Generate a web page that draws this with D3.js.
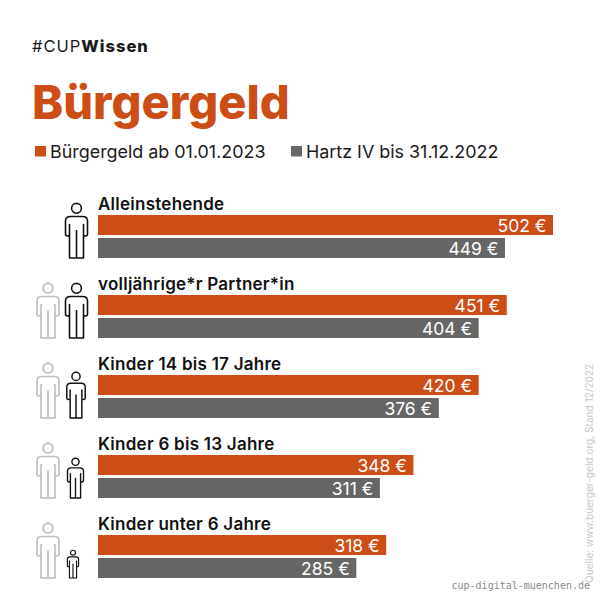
<!DOCTYPE html>
<html>
<head>
<meta charset="utf-8">
<script src="https://cdn.jsdelivr.net/npm/d3@7"></script>
<style>
html, body { margin: 0; padding: 0; background: #fff; }
text { font-family: Inter, sans-serif; }
</style>
</head>
<body>
<script>
// data
var categories = ["Alleinstehende", "volljährige*r Partner*in", "Kinder 14 bis 17 Jahre", "Kinder 6 bis 13 Jahre", "Kinder unter 6 Jahre"];
var buergergeld = [502, 451, 420, 348, 318];
var hartz = [449, 404, 376, 311, 285];
// the reference draws the 404 bar as long as the 420 one, so lengths are kept apart from the labels
var hartzBar = [449, 420, 376, 311, 285];
var seriesNames = ["Bürgergeld ab 01.01.2023", "Hartz IV bis 31.12.2022"];

var orange = "#cd4d17", grey = "#666666";
var personH = 55;

var svg = d3.select("body").append("svg")
    .attr("width", 600)
    .attr("height", 600)
    .style("display", "block");

// scales
var xScale = d3.scaleLinear().domain([0, 502]).range([98, 553]);
var rowScale = d3.scaleBand().domain(categories).range([195, 595]);
var barScale = d3.scaleBand().domain(seriesNames).range([20, 63]).paddingInner(0.13);

// header
var head = svg.append("text")
    .attr("x", 32).attr("y", 52)
    .style("font-size", "16.5px")
    .style("letter-spacing", "1px")
    .style("fill", "#1a1a1a");
head.append("tspan").text("#CUP");
head.append("tspan").text("Wissen").style("font-weight", 800);

svg.append("text")
    .text("Bürgergeld")
    .attr("x", 32).attr("y", 119)
    .style("font-size", "47px")
    .style("font-weight", 800)
    .style("fill", orange);

// legend
var legendX = [35, 291];
seriesNames.forEach(function(name, i){
    svg.append("rect")
        .attr("x", legendX[i]).attr("y", 146)
        .attr("width", 11).attr("height", 10.5)
        .style("fill", i == 0 ? orange : grey);
    svg.append("text")
        .text(name)
        .attr("x", legendX[i] + 15).attr("y", 158)
        .style("font-size", "17.9px")
        .style("fill", "#1a1a1a");
});

// person icon, unit coordinates with height 55 and centre on x = 0
function drawPerson(g, cx, bottom, height, color){
    var k = height / personH;
    var p = g.append("g")
        .attr("transform", "translate(" + cx + "," + (bottom - height) + ") scale(" + k + ")")
        .style("fill", "none")
        .style("stroke", color)
        .style("stroke-width", 1.6 / Math.sqrt(k))
        .style("stroke-linejoin", "round");
    p.append("circle").attr("cx", 0).attr("cy", 5.3).attr("r", 4.9);
    p.append("path").attr("d",
        "M-6,13.5 H6 Q11,13.5 11,18 V31 Q11,33 9,33 Q7,33 7,31 V21.5 V55 H-7 V21.5 V31 Q-7,33 -9,33 Q-11,33 -11,31 V18 Q-11,13.5 -6,13.5 Z M0,27 V55");
}

// which rows show a grey adult, how tall the black figure is and where it stands
var adultBeside = [false, true, true, true, true];
var figureHeight = [55, 55, 46, 40, 28];
var figureX = [76.5, 76.5, 76, 75.5, 73];

// rows
var rows = svg.selectAll("g.row")
    .data(categories)
    .enter().append("g")
    .attr("class", "row")
    .attr("transform", function(d){ return "translate(0," + rowScale(d) + ")"; });

rows.append("text")
    .text(function(d){ return d; })
    .attr("x", 98).attr("y", 14.5)
    .style("font-size", "17px")
    .style("letter-spacing", "0.25px")
    .style("font-weight", 600)
    .style("fill", "#111");

rows.each(function(d, i){
    var g = d3.select(this);
    var lengths = [buergergeld[i], hartzBar[i]];
    var labels = [buergergeld[i], hartz[i]];
    if(adultBeside[i]) drawPerson(g, 48, 63, 55, "#bdbdbd");
    drawPerson(g, figureX[i], 63, figureHeight[i], "#111");

    lengths.forEach(function(v, j){
        var y = barScale(seriesNames[j]);
        g.append("rect")
            .attr("x", xScale(0))
            .attr("y", y)
            .attr("width", xScale(v) - xScale(0))
            .attr("height", barScale.bandwidth())
            .style("fill", j == 0 ? orange : grey);
        g.append("text")
            .text(labels[j] + " €")
            .attr("x", xScale(v) - 6.5)
            .attr("y", y + 16.7)
            .attr("text-anchor", "end")
            .style("font-size", "17.5px")
            .style("fill", "#fff");
    });
});

// source and footer
svg.append("text")
    .text("Quelle: www.buerger-geld.org, Stand 12/2022")
    .attr("transform", "translate(593,583) rotate(-90)")
    .style("font-size", "10.1px")
    .style("fill", "#c9c9c9");

svg.append("text")
    .text("cup-digital-muenchen.de")
    .attr("x", 590).attr("y", 589)
    .attr("text-anchor", "end")
    .style("font-family", "'DejaVu Sans Mono', monospace")
    .style("font-size", "10px")
    .style("fill", "#8a8a8a");
</script>
</body>
</html>
